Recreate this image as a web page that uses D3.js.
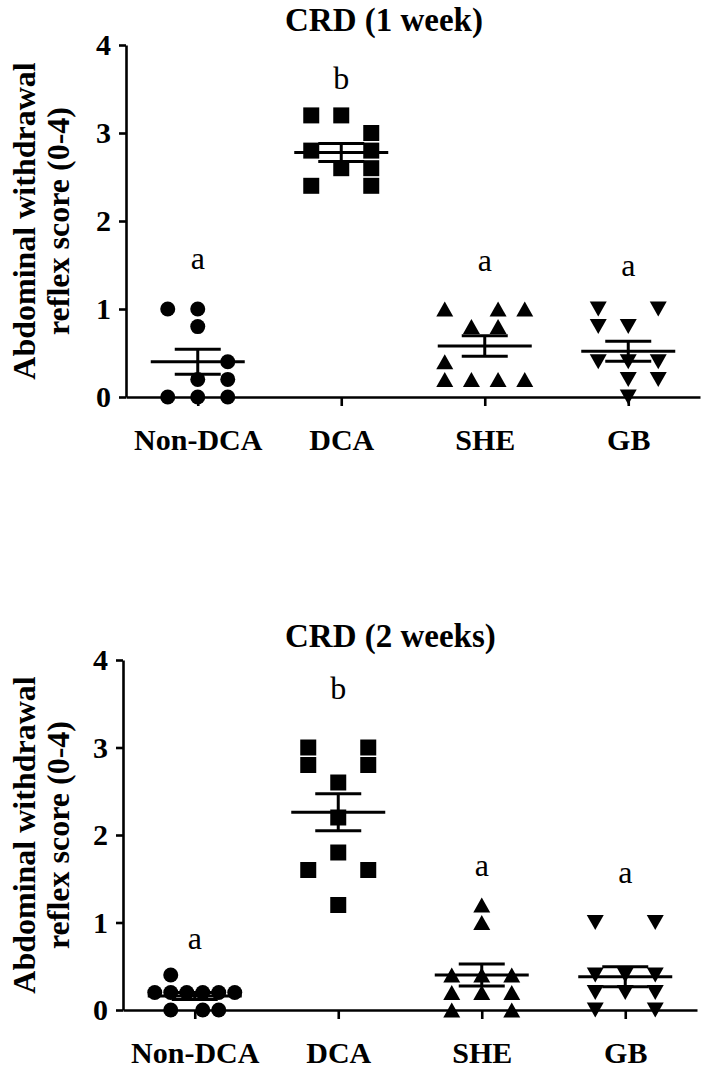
<!DOCTYPE html>
<html><head><meta charset="utf-8">
<script src="https://cdn.jsdelivr.net/npm/d3@7"></script>
<style>body{margin:0;background:#fff} svg{display:block}</style>
</head><body>
<svg id="chart" width="705" height="1070"></svg>
<script>
// ---------- data ----------
const categories = ["Non-DCA", "DCA", "SHE", "GB"];
const symbols = ["circle", "square", "triangleUp", "triangleDown"];
const yTicks = [0, 1, 2, 3, 4];
const panelTitles = ["CRD (1 week)", "CRD (2 weeks)"];
const yTitleLines = ["Abdominal withdrawal", "reflex score (0-4)"];

// week 1 individual scores (and the scatter column each point sits in)
const w1NonDCA = [1.0, 1.0, 0.8, 0.4, 0.2, 0.2, 0, 0, 0];
const w1NonDCACol = [0, 1, 1, 2, 1, 2, 0, 1, 2];
const w1DCA = [3.2, 3.2, 3.0, 2.8, 2.8, 2.6, 2.6, 2.4, 2.4];
const w1DCACol = [0, 1, 2, 0, 2, 1, 2, 0, 2];
const w1SHE = [1.0, 1.0, 1.0, 0.8, 0.8, 0.4, 0.2, 0.2, 0.2, 0.2];
const w1SHECol = [0, 2, 3, 1, 2, 0, 0, 1, 2, 3];
const w1GB = [1.0, 1.0, 0.8, 0.8, 0.4, 0.4, 0.4, 0.2, 0.2, 0];
const w1GBCol = [0, 2, 0, 1, 0, 1, 2, 1, 2, 1];
const w1Letters = ["a", "b", "a", "a"];
const w1LetterLevel = [1.58, 3.63, 1.56, 1.50];

// week 2
const w2NonDCA = [0.4, 0.2, 0.2, 0.2, 0.2, 0.2, 0.2, 0, 0, 0];
const w2NonDCACol = [1, 0, 1, 2, 3, 4, 5, 1, 3, 4];
const w2DCA = [3.0, 3.0, 2.8, 2.8, 2.6, 2.2, 1.8, 1.6, 1.6, 1.2];
const w2DCACol = [0, 2, 0, 2, 1, 1, 1, 0, 2, 1];
const w2SHE = [1.2, 1.0, 0.4, 0.4, 0.4, 0.2, 0.2, 0.2, 0, 0];
const w2SHECol = [1, 1, 0, 1, 2, 0, 1, 2, 0, 2];
const w2GB = [1.0, 1.0, 0.4, 0.4, 0.4, 0.2, 0.2, 0.2, 0, 0];
const w2GBCol = [0, 2, 0, 1, 2, 0, 1, 2, 0, 2];
const w2Letters = ["a", "b", "a", "a"];
const w2LetterLevel = [0.83, 3.68, 1.66, 1.58];

// ---------- layout ----------
const panels = [
  { title: panelTitles[0], groups: [[w1NonDCA, w1NonDCACol], [w1DCA, w1DCACol], [w1SHE, w1SHECol], [w1GB, w1GBCol]],
    letters: w1Letters, letterLevel: w1LetterLevel,
    x0: 126, x1: 700, yTop: 45, yBot: 397, titleY: 31 },
  { title: panelTitles[1], groups: [[w2NonDCA, w2NonDCACol], [w2DCA, w2DCACol], [w2SHE, w2SHECol], [w2GB, w2GBCol]],
    letters: w2Letters, letterLevel: w2LetterLevel,
    x0: 123, x1: 697, yTop: 660, yBot: 1010, titleY: 647 }
];

const svg = d3.select("#chart");
const FONT = "'Liberation Serif', 'Times New Roman', serif";

function markerPath(type) {
  switch (type) {
    case "circle": return "M0,-7.5A7.5,7.5 0 1,1 0,7.5A7.5,7.5 0 1,1 0,-7.5Z";
    case "square": return "M-8,-8H8V8H-8Z";
    case "triangleUp": return "M0,-7.5L8.5,7.5L-8.5,7.5Z";
    case "triangleDown": return "M0,7.5L8.5,-7.5L-8.5,-7.5Z";
  }
}

panels.forEach(p => {
  const g = svg.append("g");
  const x = d3.scalePoint().domain(categories).range([p.x0, p.x1]).padding(0.5);
  const y = d3.scaleLinear().domain([0, 4]).range([p.yBot, p.yTop]);

  // y axis
  const ya = g.append("g").attr("transform", `translate(${p.x0},0)`)
    .call(d3.axisLeft(y).tickValues(yTicks).tickFormat(d3.format("d")).tickSize(7).tickSizeOuter(0).tickPadding(8));
  // x axis
  const xa = g.append("g").attr("transform", `translate(0,${p.yBot})`)
    .call(d3.axisBottom(x).tickSize(9).tickSizeOuter(0).tickPadding(23));
  [ya, xa].forEach(a => {
    a.select(".domain").attr("stroke", "#000").attr("stroke-width", 2.6);
    a.selectAll(".tick line").attr("stroke", "#000").attr("stroke-width", 2.6);
    a.selectAll("text").attr("fill", "#000").attr("font-family", FONT).attr("font-weight", "bold");
  });
  ya.selectAll("text").attr("font-size", 30);
  xa.selectAll("text").attr("font-size", 30);

  // title
  g.append("text").attr("x", 285).attr("y", p.titleY).attr("text-anchor", "start")
    .attr("font-family", FONT).attr("font-weight", "bold").attr("font-size", 33).text(p.title);

  // y title
  const yc = (p.yTop + p.yBot) / 2;
  yTitleLines.forEach((t, i) => {
    g.append("text").attr("transform", `translate(${i === 0 ? 35 : 69},${yc}) rotate(-90)`)
      .attr("text-anchor", "middle").attr("font-family", FONT).attr("font-weight", "bold")
      .attr("font-size", 32).text(t);
  });

  // points, mean, SEM
  p.groups.forEach(([vals, cols], gi) => {
    const cat = categories[gi];
    const cx = x(cat);
    const ncols = d3.max(cols) + 1;
    const step = Math.min(30, 80 / (ncols - 1));
    g.append("g").selectAll("path").data(vals).join("path")
      .attr("d", markerPath(symbols[gi]))
      .attr("fill", "#000")
      .attr("transform", (d, i) => `translate(${cx + (cols[i] - (ncols - 1) / 2) * step},${y(d)})`);

    const m = d3.mean(vals);
    const sem = d3.deviation(vals) / Math.sqrt(vals.length);
    const lg = g.append("g").attr("stroke", "#000").attr("stroke-width", 3);
    lg.append("line").attr("x1", cx - 47).attr("x2", cx + 47).attr("y1", y(m)).attr("y2", y(m));
    lg.append("line").attr("x1", cx - 23).attr("x2", cx + 23).attr("y1", y(m + sem)).attr("y2", y(m + sem));
    lg.append("line").attr("x1", cx - 23).attr("x2", cx + 23).attr("y1", y(m - sem)).attr("y2", y(m - sem));
    lg.append("line").attr("x1", cx).attr("x2", cx).attr("y1", y(m + sem)).attr("y2", y(m - sem));

    // significance letter
    g.append("text").attr("x", cx).attr("y", y(p.letterLevel[gi])).attr("dy", "0.35em")
      .attr("text-anchor", "middle").attr("font-family", FONT).attr("font-size", 32)
      .text(p.letters[gi]);
  });
});
</script>
</body></html>
